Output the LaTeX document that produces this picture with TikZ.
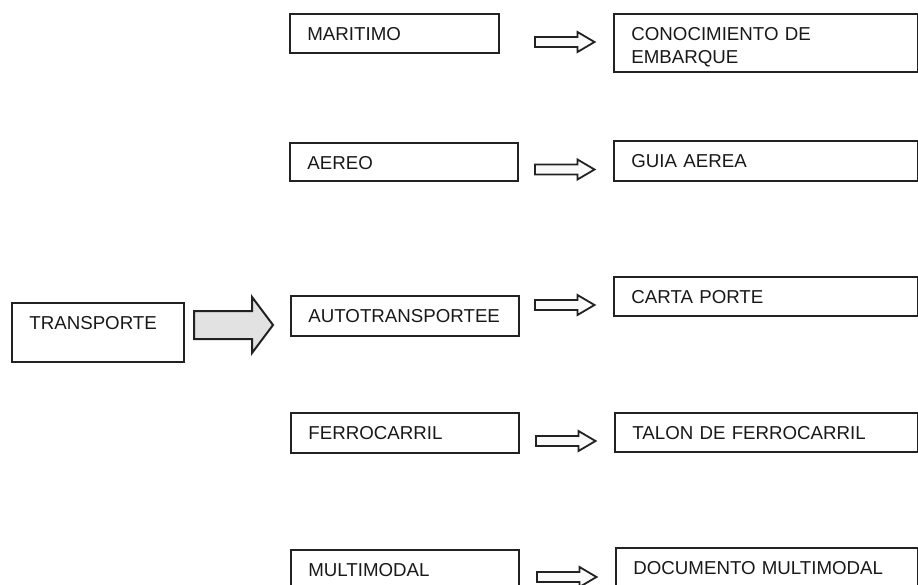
\documentclass[tikz,border=0pt]{standalone}
\usepackage{fontspec}
\setmainfont{Liberation Sans}
\usepackage{tikz}
\usetikzlibrary{calc}
\definecolor{linea}{HTML}{222222}
\definecolor{relleno}{HTML}{E2E2E2}
\newcommand{\letra}{\fontsize{18.7}{23}\selectfont}
% small block arrow, tip at #1
\newcommand{\flechita}[1]{\draw[flecha] (#1) -- ++(-17,-10) -- ++(0,5) -- ++(-42.5,0)
  -- ++(0,10) -- ++(42.5,0) -- ++(0,5) -- cycle;}

\begin{document}
\begin{tikzpicture}[x=1pt, y=-1pt,
	caja/.style={draw=linea, line width=1.8pt, anchor=north west, inner xsep=17.5pt,
		inner ysep=0pt, align=left, text height=26.9pt, font=\letra, text=black!90},
	flecha/.style={draw=linea, line width=1.8pt, fill=gray!5, line join=miter},
	flechagrande/.style={flecha, fill=relleno, line width=2pt}]
	\clip (0,0) rectangle (918,585);
	% modos de transporte
	\node[caja, text width=137pt, text depth=32.1pt] (transporte) at (11,302) {TRANSPORTE};
	\node[caja, text width=174pt, text depth=12.1pt] (maritimo) at (289,13) {MARITIMO};
	\node[caja, text width=193pt, text depth=11.1pt] (aereo) at (289,142) {AEREO};
	\node[caja, text width=193pt, text depth=13.1pt] (auto) at (290,295) {AUTOTRANSPORTEE};
	\node[caja, text width=193pt, text depth=13.1pt] (ferro) at (290,412) {FERROCARRIL};
	\node[caja, text width=193pt, text depth=13.1pt] (multi) at (290,549) {MULTIMODAL};
	% documentos
	\node[caja, text width=269pt, text depth=31.1pt] (conoc) at (613,13) {CONOCIMIENTO DE\\EMBARQUE};
	\node[caja, text width=269pt, text depth=13.1pt] (guia) at (613,140) {GUIA AEREA};
	\node[caja, text width=269pt, text depth=12.1pt] (carta) at (613,276) {CARTA PORTE};
	\node[caja, text width=268pt, text depth=12.1pt] (talon) at (614,412) {TALON DE FERROCARRIL};
	\node[caja, text width=267pt, text depth=13.1pt] (docu) at (615,547) {DOCUMENTO MULTIMODAL};
	% flecha grande
	\coordinate (pt) at ($(auto.west |- 0,325)+(-17,0)$);
	\draw[flechagrande] (pt) -- ++(-21,-28) -- ++(0,14) -- ++(-58,0) -- ++(0,28)
		-- ++(58,0) -- ++(0,14) -- cycle;
	% flechas chicas
	\coordinate (p1) at ($(conoc.west |- 0,42)+(-18.5,0)$);
	\coordinate (p2) at ($(guia.west |- 0,169.5)+(-18.5,0)$);
	\coordinate (p3) at ($(carta.west |- 0,305)+(-18.5,0)$);
	\coordinate (p4) at ($(talon.west |- 0,441)+(-18.5,0)$);
	\coordinate (p5) at ($(docu.west |- 0,577)+(-18.5,0)$);
	\flechita{p1} \flechita{p2} \flechita{p3} \flechita{p4} \flechita{p5}
\end{tikzpicture}
\end{document}
